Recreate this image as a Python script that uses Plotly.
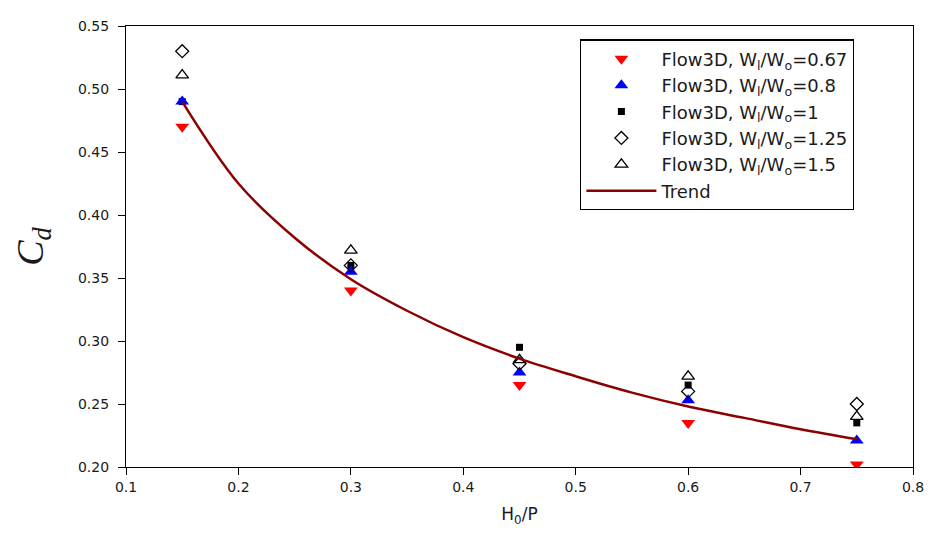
import plotly.graph_objects as go

x_vals = [0.15, 0.30, 0.45, 0.60, 0.75]
cd_067 = [0.470, 0.340, 0.265, 0.235, 0.202]
cd_08 = [0.490, 0.355, 0.275, 0.253, 0.221]
cd_1 = [0.490, 0.360, 0.295, 0.265, 0.235]
cd_125 = [0.530, 0.360, 0.282, 0.260, 0.250]
cd_15 = [0.511, 0.372, 0.285, 0.272, 0.240]

trend_x = [0.15, 0.20, 0.25, 0.30, 0.35, 0.40, 0.45, 0.50, 0.55, 0.60, 0.65, 0.70, 0.75]
trend_y = [0.490, 0.425, 0.382, 0.349, 0.324, 0.303, 0.286, 0.272, 0.259, 0.248, 0.239, 0.230, 0.222]

x_ticks = [0.1, 0.2, 0.3, 0.4, 0.5, 0.6, 0.7, 0.8]
y_ticks = [0.20, 0.25, 0.30, 0.35, 0.40, 0.45, 0.50, 0.55]

names = ["Flow3D, W<sub>l</sub>/W<sub>o</sub>=0.67",
         "Flow3D, W<sub>l</sub>/W<sub>o</sub>=0.8",
         "Flow3D, W<sub>l</sub>/W<sub>o</sub>=1",
         "Flow3D, W<sub>l</sub>/W<sub>o</sub>=1.25",
         "Flow3D, W<sub>l</sub>/W<sub>o</sub>=1.5"]

SANS = "DejaVu Sans, Arial"
TXT = "#1a1a1a"

fig = go.Figure()
fig.add_trace(go.Scatter(x=x_vals, y=cd_067, mode="markers", name=names[0],
                         marker=dict(symbol="triangle-down", size=12, color="#ff0000",
                                     line=dict(width=0))))
fig.add_trace(go.Scatter(x=x_vals, y=cd_1, mode="markers", name=names[2],
                         marker=dict(symbol="square", size=7, color="#000000",
                                     line=dict(width=0)), showlegend=False))
fig.add_trace(go.Scatter(x=x_vals, y=cd_08, mode="markers", name=names[1],
                         marker=dict(symbol="triangle-up", size=12, color="#0000ff",
                                     line=dict(width=0))))
fig.add_trace(go.Scatter(x=[None], y=[None], mode="markers", name=names[2],
                         marker=dict(symbol="square", size=7, color="#000000",
                                     line=dict(width=0))))
fig.add_trace(go.Scatter(x=x_vals, y=cd_125, mode="markers", name=names[3],
                         marker=dict(symbol="diamond-open", size=10, color="#000000",
                                     line=dict(width=1.3))))
fig.add_trace(go.Scatter(x=x_vals, y=cd_15, mode="markers", name=names[4],
                         marker=dict(symbol="triangle-up-open", size=11, color="#000000",
                                     line=dict(width=1.3))))
fig.add_trace(go.Scatter(x=trend_x, y=trend_y, mode="lines", name="Trend",
                         line=dict(color="#8b0000", width=2.5, shape="spline")))

axis_common = dict(showline=True, linecolor="#000000", linewidth=1.3, mirror=True,
                   ticks="outside", ticklen=7, tickwidth=1.3, tickcolor="#000000",
                   showgrid=False, zeroline=False,
                   tickfont=dict(family=SANS, size=14, color=TXT))

fig.update_layout(
    width=926, height=539,
    margin=dict(l=118, r=16, t=10, b=80),
    paper_bgcolor="white", plot_bgcolor="white",
    xaxis=dict(range=[0.1, 0.8], tickvals=x_ticks, ticktext=[f"{v:.1f}" for v in x_ticks],
               title=dict(text="H<sub>0</sub>/P", standoff=14,
                          font=dict(family=SANS, size=17, color=TXT)),
               **axis_common),
    yaxis=dict(range=[0.20, 0.55], tickvals=y_ticks, ticktext=[f"{v:.2f}" for v in y_ticks],
               ticklabelstandoff=6,
               title=dict(text="<i>C<sub>d</sub></i>", standoff=22,
                          font=dict(family="Liberation Serif, Times New Roman", size=38, color=TXT)),
               **axis_common),
    legend=dict(x=0.577, y=0.97, xanchor="left", yanchor="top",
                bgcolor="white", bordercolor="#000000", borderwidth=1.3,
                font=dict(family=SANS, size=18, color=TXT),
                itemwidth=70, tracegroupgap=0),
    showlegend=True,
)

fig.write_html("out.html")
